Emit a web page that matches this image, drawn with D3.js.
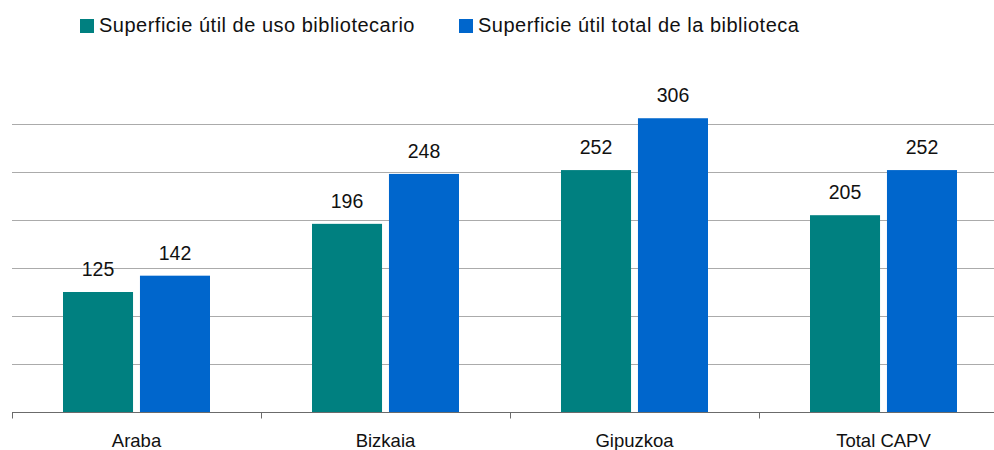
<!DOCTYPE html>
<html>
<head>
<meta charset="utf-8">
<script src="https://cdn.jsdelivr.net/npm/d3@7"></script>
<style>
  body { margin: 0; background: #fff; }
  svg { display: block; font-family: "Liberation Sans", Arial, sans-serif; }
</style>
</head>
<body>
<div id="chart"></div>
<script>
const categories = ["Araba", "Bizkaia", "Gipuzkoa", "Total CAPV"];
const seriesNames = ["Superficie útil de uso bibliotecario", "Superficie útil total de la biblioteca"];
const usoValues = [125, 196, 252, 205];
const totalValues = [142, 248, 306, 252];
const gridTicks = [50, 100, 150, 200, 250, 300];

const COLORS = ["#008080", "#0066cc"];

const width = 994;
const height = 450;

const svg = d3.select("#chart")
  .append("svg")
  .attr("width", width)
  .attr("height", height);

const x = d3.scaleBand()
  .domain(categories)
  .range([12, 1008])
  .paddingInner(0)
  .paddingOuter(0);

const inner = d3.scaleBand()
  .domain([0, 1])
  .range([51, x.bandwidth() - 51])
  .paddingInner(0.09);

const y = d3.scaleLinear()
  .domain([0, 300])
  .range([412, 124]);

// gridlines
svg.append("g")
  .selectAll("line")
  .data(gridTicks)
  .join("line")
  .attr("x1", 12)
  .attr("x2", width)
  .attr("y1", (d) => Math.round(y(d)) + 0.5)
  .attr("y2", (d) => Math.round(y(d)) + 0.5)
  .attr("stroke", "#ababab")
  .attr("stroke-width", 1);

const rows = categories.map((c, i) => ({ cat: c, values: [usoValues[i], totalValues[i]] }));

const groups = svg.append("g")
  .selectAll("g")
  .data(rows)
  .join("g")
  .attr("transform", (d) => `translate(${x(d.cat)},0)`);

groups.selectAll("rect")
  .data((d) => d.values.map((v, k) => ({ v, k })))
  .join("rect")
  .attr("x", (d) => inner(d.k))
  .attr("y", (d) => y(d.v))
  .attr("width", inner.bandwidth())
  .attr("height", (d) => y(0) - y(d.v))
  .attr("fill", (d) => COLORS[d.k]);

groups.selectAll("text")
  .data((d) => d.values.map((v, k) => ({ v, k })))
  .join("text")
  .attr("x", (d) => inner(d.k) + inner.bandwidth() / 2)
  .attr("y", (d) => y(d.v) - 16)
  .attr("text-anchor", "middle")
  .attr("font-size", 19.5)
  .attr("fill", "#111")
  .text((d) => d.v);

// x axis
const axis = svg.append("g")
  .attr("transform", `translate(0,${Math.round(y(0)) + 0.5})`);

axis.append("line")
  .attr("x1", 12)
  .attr("x2", width)
  .attr("stroke", "#6b6b6b");

axis.selectAll("line.tick")
  .data(categories)
  .join("line")
  .attr("class", "tick")
  .attr("x1", (d) => Math.round(x(d)) + 0.5)
  .attr("x2", (d) => Math.round(x(d)) + 0.5)
  .attr("y1", 0)
  .attr("y2", 6)
  .attr("stroke", "#6b6b6b");

axis.selectAll("text")
  .data(categories)
  .join("text")
  .attr("x", (d) => x(d) + x.bandwidth() / 2)
  .attr("y", 34.5)
  .attr("text-anchor", "middle")
  .attr("font-size", 18.5)
  .attr("fill", "#111")
  .text((d) => d);

// legend
const legendX = [80, 459];
const legend = svg.append("g")
  .selectAll("g")
  .data(seriesNames)
  .join("g")
  .attr("transform", (d, i) => `translate(${legendX[i]},19)`);

legend.append("rect")
  .attr("width", 14)
  .attr("height", 14)
  .attr("fill", (d, i) => COLORS[i]);

legend.append("text")
  .attr("x", 19)
  .attr("y", 13)
  .attr("font-size", 20)
  .attr("letter-spacing", 0.5)
  .attr("fill", "#111")
  .text((d) => d);
</script>
</body>
</html>
